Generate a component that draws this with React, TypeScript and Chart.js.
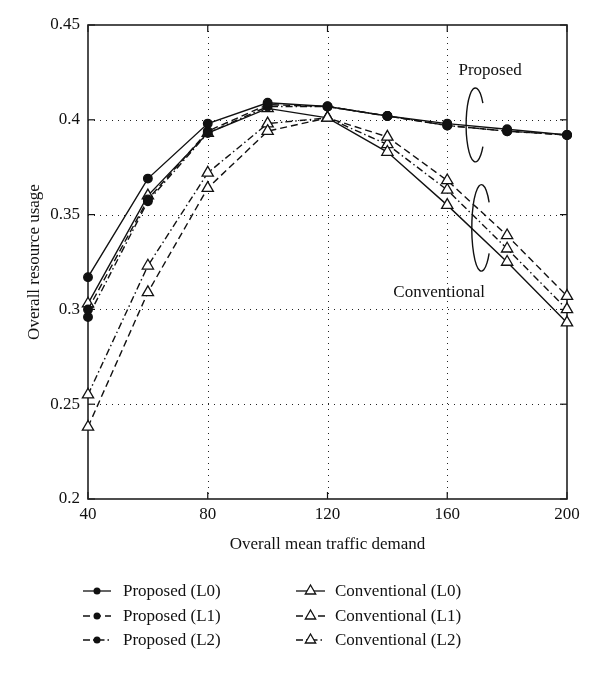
import React, { useEffect, useRef } from 'react';
import { Chart, registerables } from 'chart.js';
Chart.register(...registerables);

const demand = [40, 60, 80, 100, 120, 140, 160, 180, 200];
const proposedL0 = [0.317, 0.369, 0.398, 0.409, 0.407, 0.402, 0.398, 0.395, 0.392];
const proposedL1 = [0.300, 0.358, 0.394, 0.408, 0.407, 0.402, 0.397, 0.394, 0.392];
const proposedL2 = [0.296, 0.357, 0.393, 0.407, 0.407, 0.402, 0.397, 0.394, 0.392];
const conventionalL0 = [0.303, 0.360, 0.393, 0.406, 0.401, 0.383, 0.355, 0.325, 0.293];
const conventionalL1 = [0.238, 0.309, 0.364, 0.394, 0.401, 0.391, 0.368, 0.339, 0.307];
const conventionalL2 = [0.255, 0.323, 0.372, 0.398, 0.401, 0.387, 0.363, 0.332, 0.300];
const xTicks = [40, 80, 120, 160, 200];
const yTicks = [0.2, 0.25, 0.3, 0.35, 0.4, 0.45];
const seriesNames = ['Proposed (L0)', 'Proposed (L1)', 'Proposed (L2)', 'Conventional (L0)', 'Conventional (L1)', 'Conventional (L2)'];

const FONT = "'Liberation Serif', 'Times New Roman', serif";
const SOLID: number[] = [];
const DASH = [7, 4];
const DASHDOT = [7, 3, 1.5, 3];

const toPts = (ys: number[]) => demand.map((x, i) => ({ x, y: ys[i] }));

const decor = {
  id: 'decor',
  beforeDatasetsDraw(chart: any) {
    const { ctx, chartArea: a, scales } = chart;
    const xs = scales.x, ys = scales.y;
    ctx.save();
    ctx.strokeStyle = '#222';
    ctx.lineWidth = 1;
    ctx.setLineDash([1, 5]);
    xTicks.slice(1, -1).forEach((v) => {
      const px = Math.round(xs.getPixelForValue(v)) + 0.5;
      ctx.beginPath(); ctx.moveTo(px, a.top); ctx.lineTo(px, a.bottom); ctx.stroke();
    });
    yTicks.slice(1, -1).forEach((v) => {
      const py = Math.round(ys.getPixelForValue(v)) + 0.5;
      ctx.beginPath(); ctx.moveTo(a.left, py); ctx.lineTo(a.right, py); ctx.stroke();
    });
    ctx.setLineDash([]);
    ctx.strokeStyle = '#111';
    ctx.lineWidth = 1.2;
    const tl = 7;
    xTicks.forEach((v) => {
      const px = xs.getPixelForValue(v);
      ctx.beginPath(); ctx.moveTo(px, a.bottom); ctx.lineTo(px, a.bottom - tl); ctx.stroke();
      ctx.beginPath(); ctx.moveTo(px, a.top); ctx.lineTo(px, a.top + tl); ctx.stroke();
    });
    yTicks.forEach((v) => {
      const py = ys.getPixelForValue(v);
      ctx.beginPath(); ctx.moveTo(a.left, py); ctx.lineTo(a.left + tl, py); ctx.stroke();
      ctx.beginPath(); ctx.moveTo(a.right, py); ctx.lineTo(a.right - tl, py); ctx.stroke();
    });
    ctx.lineWidth = 1.6;
    ctx.strokeStyle = '#222';
    ctx.strokeRect(a.left, a.top, a.right - a.left, a.bottom - a.top);
    ctx.restore();
  },
  afterDraw(chart: any) {
    const { ctx, scales } = chart;
    const xs = scales.x, ys = scales.y;
    ctx.save();
    ctx.fillStyle = '#111';
    ctx.strokeStyle = '#111';
    ctx.font = `17px ${FONT}`;
    ctx.textBaseline = 'middle';
    ctx.textAlign = 'center';
    ctx.fillText('Proposed', xs.getPixelForValue(174.3), ys.getPixelForValue(0.4258));
    ctx.fillText('Conventional', xs.getPixelForValue(157.3), ys.getPixelForValue(0.3088));
    // curly ellipse marks
    const ell = (cx: number, cy: number, rx: number, ry: number) => {
      const px = xs.getPixelForValue(cx);
      const py = ys.getPixelForValue(cy);
      const prx = xs.getPixelForValue(cx + rx) - px;
      const pry = py - ys.getPixelForValue(cy + ry);
      ctx.beginPath();
      ctx.ellipse(px, py, prx, pry, 0, -0.2 * Math.PI, 0.2 * Math.PI, true);
      ctx.lineWidth = 1.4;
      ctx.stroke();
    };
    ell(169.4, 0.3973, 3.1, 0.0195);
    ell(171.4, 0.343, 3.2, 0.0228);

    // legend
    const rows = [591, 616, 640];
    const cols = [{ x0: 83, x1: 111, tx: 123 }, { x0: 296, x1: 325, tx: 335 }];
    chart.data.datasets.forEach((ds: any, i: number) => {
      const col = cols[i < 3 ? 0 : 1];
      const y = rows[i % 3];
      ctx.lineWidth = 1.3;
      ctx.setLineDash(ds.borderDash || []);
      ctx.beginPath(); ctx.moveTo(col.x0, y); ctx.lineTo(col.x1, y); ctx.stroke();
      ctx.setLineDash([]);
      const mx = (col.x0 + col.x1) / 2;
      if (ds.pointStyle === 'triangle') {
        const r = 6;
        ctx.beginPath();
        ctx.moveTo(mx, y - r);
        ctx.lineTo(mx + r * 0.866, y + r * 0.5);
        ctx.lineTo(mx - r * 0.866, y + r * 0.5);
        ctx.closePath();
        ctx.fillStyle = '#fff'; ctx.fill(); ctx.stroke();
      } else {
        ctx.beginPath(); ctx.arc(mx, y, 3.5, 0, Math.PI * 2);
        ctx.fillStyle = '#111'; ctx.fill();
      }
      ctx.fillStyle = '#111';
      ctx.textAlign = 'left';
      ctx.fillText(ds.label, col.tx, y + 1);
    });
    ctx.restore();
  },
};

const mk = (label: string, ys: number[], dash: number[], tri: boolean) => ({
  label,
  data: toPts(ys),
  borderColor: '#111',
  borderWidth: 1.4,
  borderDash: dash,
  pointStyle: tri ? 'triangle' : 'circle',
  pointRadius: tri ? 6.5 : 4.3,
  pointBorderWidth: 1.3,
  pointBackgroundColor: tri ? '#fff' : '#111',
  pointBorderColor: '#111',
  fill: false,
  tension: 0,
  clip: false,
});

export default function App() {
  const ref = useRef<HTMLCanvasElement>(null);
  useEffect(() => {
    if (!ref.current) return;
    const chart = new Chart(ref.current, {
      type: 'line',
      data: {
        datasets: [
          mk(seriesNames[0], proposedL0, SOLID, false),
          mk(seriesNames[1], proposedL1, DASH, false),
          mk(seriesNames[2], proposedL2, DASHDOT, false),
          mk(seriesNames[3], conventionalL0, SOLID, true),
          mk(seriesNames[4], conventionalL1, DASH, true),
          mk(seriesNames[5], conventionalL2, DASHDOT, true),
        ],
      },
      options: {
        animation: false,
        responsive: true,
        maintainAspectRatio: false,
        layout: { padding: { left: 0, right: 33, top: 25, bottom: 0 } },
        plugins: { legend: { display: false }, tooltip: { enabled: false } },
        scales: {
          x: {
            type: 'linear',
            min: 40,
            max: 200,
            afterFit: (s: any) => { s.height = 174; },
            afterBuildTicks: (s: any) => { s.ticks = xTicks.map((v) => ({ value: v })); },
            grid: { display: false, drawTicks: false },
            border: { display: false },
            ticks: { color: '#111', padding: 5, maxRotation: 0, font: { family: FONT, size: 17 } },
            title: { display: true, text: 'Overall mean traffic demand', color: '#111', font: { family: FONT, size: 17 }, padding: { top: 0, bottom: 118 } },
          },
          y: {
            type: 'linear',
            min: 0.2,
            max: 0.45,
            afterFit: (s: any) => { s.width = 88; },
            afterBuildTicks: (s: any) => { s.ticks = yTicks.map((v) => ({ value: v })); },
            grid: { display: false, drawTicks: false },
            border: { display: false },
            ticks: { color: '#111', padding: 8, font: { family: FONT, size: 17 }, callback: (v: any) => String(+Number(v).toFixed(2)) },
            title: { display: true, text: 'Overall resource usage', color: '#111', font: { family: FONT, size: 17 }, padding: { top: 24, bottom: 0 } },
          },
        },
      },
      plugins: [decor],
    });
    return () => chart.destroy();
  }, []);
  return (
    <div style={{ position: 'fixed', left: 0, top: 0, width: 600, height: 673, background: '#fff' }}>
      <canvas ref={ref} />
    </div>
  );
}
